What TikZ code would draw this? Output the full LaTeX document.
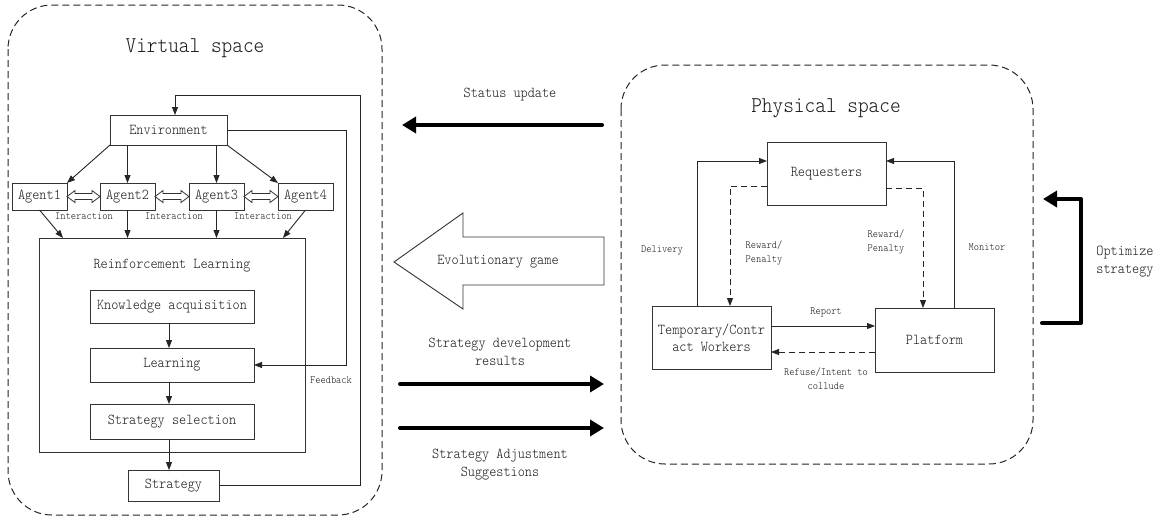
\documentclass[tikz,border=0pt]{standalone}
\usepackage{fontspec}
\setmonofont{Latin Modern Mono Light}[FakeStretch=0.9]
\usetikzlibrary{arrows.meta,calc}
\tikzset{
  x=1pt, y=-1pt,
  every node/.style={font=\ttfamily, text=black!90},
  box/.style={draw=black!80, line width=0.9pt, inner sep=0pt, outer sep=0pt,
    align=center, font=\ttfamily\fontsize{15.1}{17}\selectfont},
  zone/.style={draw=black!85, line width=1pt, dash pattern=on 7pt off 4pt, rounded corners=44pt},
  title/.style={font=\ttfamily\fontsize{22.6}{24}\selectfont},
  lbl/.style={font=\ttfamily\fontsize{15.1}{18}\selectfont, align=center},
  small/.style={font=\ttfamily\fontsize{11.1}{14}\selectfont, align=center},
  arr/.style={draw=black!85, line width=0.9pt, -{Triangle[length=8pt,width=6pt]}},
  darr/.style={arr, dash pattern=on 6pt off 4pt},
  fat/.style={draw=black, line width=4pt, line cap=round, line join=round,
    -{Triangle[length=14pt,width=16pt]}},
  hollow/.style={draw=black!80, line width=0.8pt, fill=white},
}
% hollow two-headed block arrow between two horizontally aligned nodes
\newcommand\dblarrow[2]{%
  \draw[hollow] (#1.east) -- ++(8,-6) -- ++(0,3) -- ($(#2.west)+(-8,-3)$) -- ++(0,-3)
    -- (#2.west) -- ++(-8,6) -- ++(0,-3) -- ($(#1.east)+(8,3)$) -- ++(0,3) -- cycle;}

\begin{document}
\begin{tikzpicture}
\useasboundingbox (0,0) rectangle (1163,520);
\fill[white] (0,0) rectangle (1163,520);

% the two spaces
\draw[zone] (8,5) rectangle (382,515);
\draw[zone] (621,65) rectangle (1033,464);
\node[title] (vtitle) at (195,48) {Virtual space};
\node[title] (ptitle) at (826,108) {Physical space};

% ---------- virtual space ----------
\node[box, minimum width=117, minimum height=30] (env) at (168.5,130) {Environment};
\node[box, minimum width=55, minimum height=27] (a1) at (39.5,196.5) {Agent1};
\node[box, minimum width=55, minimum height=27] (a2) at (127.5,196.5) {Agent2};
\node[box, minimum width=55, minimum height=27] (a3) at (216.5,196.5) {Agent3};
\node[box, minimum width=55, minimum height=27] (a4) at (305.5,196.5) {Agent4};

\node[box, minimum width=266, minimum height=214] (rl) at (172,345) {};
\node[lbl] (rltitle) at (172,266) {Reinforcement Learning};
\node[box, minimum width=164, minimum height=33] (ka) at (172,306.5) {Knowledge acquisition};
\node[box, minimum width=164, minimum height=34] (learn) at (172,365) {Learning};
\node[box, minimum width=164, minimum height=35] (ss) at (172,421.5) {Strategy selection};
\node[box, minimum width=91, minimum height=31] (strat) at (173.5,485.5) {Strategy};

% environment to agents
\draw[arr] (env.south west) -- (a1.north east);
\draw[arr] (env.south -| a2) -- (a2.north);
\draw[arr] (env.south -| a3) -- (a3.north);
\draw[arr] (env.south east) -- (a4.north west);

% agent interaction
\dblarrow{a1}{a2}
\dblarrow{a2}{a3}
\dblarrow{a3}{a4}
\node[small] (i1) at (84,216) {Interaction};
\node[small] (i2) at (174,216) {Interaction};
\node[small] (i3) at (263,216) {Interaction};

% agents to reinforcement learning
\coordinate (r1) at (63,238);
\coordinate (r4) at (283,238);
\draw[arr] (a1.south) -- (r1);
\draw[arr] (a2.south) -- (rl.north -| a2);
\draw[arr] (a3.south) -- (rl.north -| a3);
\draw[arr] (a4.south) -- (r4);

% learning chain
\coordinate (cx) at (169,0);
\draw[arr] (ka.south -| cx) -- (learn.north -| cx);
\draw[arr] (learn.south -| cx) -- (ss.north -| cx);
\draw[arr] (ss.south -| cx) -- (strat.north -| cx);

% outer loop and feedback
\coordinate (loopR) at (360,95);
\coordinate (loopL) at (175,95);
\draw[arr] (strat.east) -| (loopR) -- (loopL) -- (loopL |- env.north);
\coordinate (fbx) at (346,0);
\draw[arr] (env.east) -- (env.east -| fbx) -- (learn.east -| fbx) -- (learn.east);
\node[small] (fb) at (331,380) {Feedback};

% ---------- exchange between the spaces ----------
\node[lbl] (sutext) at (510,95) {Status update};
\coordinate (su1) at (602,125);
\coordinate (su2) at (402,125);
\draw[fat] (su1) -- (su2);

\draw[draw=black!80, line width=0.9pt, fill=white]
  (394,262) -- (463,213) -- (463,237) -- (604,237) -- (604,285) -- (463,285) -- (463,309) -- cycle;
\node[lbl] (evo) at (498,262) {Evolutionary game};

\node[lbl] (sdtext) at (500,352) {Strategy development\\results};
\coordinate (sd1) at (400,384);
\coordinate (sd2) at (604,384);
\draw[fat] (sd1) -- (sd2);

\coordinate (sa1) at (400,428);
\coordinate (sa2) at (604,428);
\draw[fat] (sa1) -- (sa2);
\node[lbl] (satext) at (500,464.5) {Strategy Adjustment\\Suggestions};

% ---------- physical space ----------
\node[box, minimum width=119, minimum height=63] (req) at (826.5,173.5) {Requesters};
\node[box, minimum width=119, minimum height=63] (wk) at (711.5,337.5) {Temporary/Contr\\act Workers};
\node[box, minimum width=119, minimum height=64] (pf) at (934.5,340) {Platform};

\coordinate (dl) at (697,161);
\draw[arr] (wk.north -| dl) -- (dl) -- (req.west |- dl);
\coordinate (mn) at (954,161);
\draw[arr] (pf.north -| mn) -- (mn) -- (req.east |- mn);

\coordinate (rwl) at (730,186);
\draw[darr] (req.west |- rwl) -- (rwl) -- (wk.north -| rwl);
\coordinate (rwr) at (923,188);
\draw[darr] (req.east |- rwr) -- (rwr) -- (pf.north -| rwr);

\coordinate (rp) at (0,326);
\draw[arr] (wk.east |- rp) -- (pf.west |- rp);
\coordinate (rf) at (0,352);
\draw[darr] (pf.west |- rf) -- (wk.east |- rf);

\node[small] (dltext) at (662,250) {Delivery};
\node[small] (mntext) at (987,247) {Monitor};
\node[small, align=left, anchor=west] (rwltext) at (742,252.5) {Reward/\\Penalty};
\node[small, align=left, anchor=west] (rwrtext) at (864,242) {Reward/\\Penalty};
\node[small] (rptext) at (826,312) {Report};
\node[small] (rftext) at (826,378.5) {Refuse/Intent to\\collude};

% optimisation feedback
\coordinate (op1) at (1042,323);
\coordinate (opc) at (1081,199);
\coordinate (op3) at (1043,199);
\draw[fat] (op1) -| (opc) -- (op3);
\node[lbl] (optext) at (1125,261.5) {Optimize\\strategy};
\end{tikzpicture}
\end{document}
